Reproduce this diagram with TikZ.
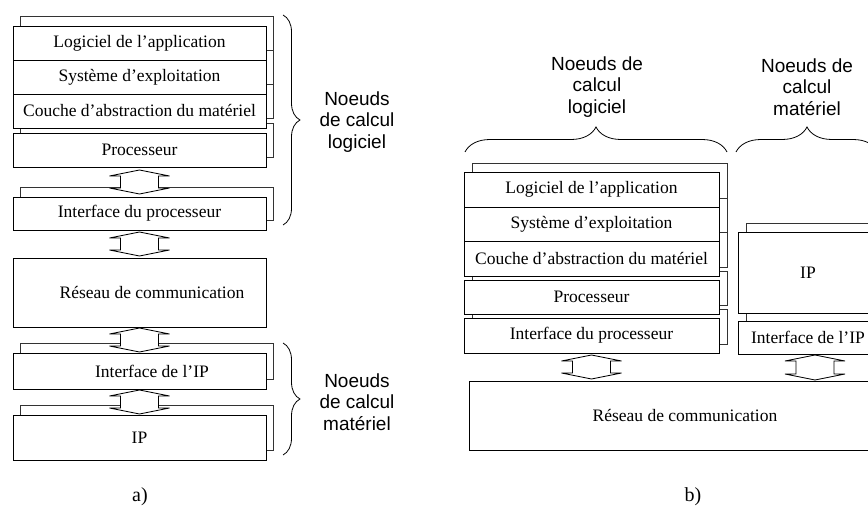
\documentclass[tikz,border=0pt]{standalone}
\usepackage{fontspec}
\setmainfont{Liberation Serif}
\newfontfamily\sansf{Liberation Sans}
\usetikzlibrary{calc,decorations.pathreplacing}
\pgfdeclarelayer{bg}
\pgfsetlayers{bg,main}
\tikzset{
 layer/.style={draw, fill=white, line width=0.8pt, inner sep=0pt, outer sep=0pt, anchor=north west, font=\fontsize{17.5}{20}\selectfont},
 shad/.style={draw=black!80, fill=white, line width=0.8pt},
 arr/.style={draw, fill=white, line width=0.8pt, line join=miter},
 brc/.style={decorate, decoration={brace, amplitude=#1}, line width=0.8pt},
 grp/.style={font=\sansf\fontsize{19}{21.5}\selectfont, align=center},
 lab/.style={font=\fontsize{20}{24}\selectfont},
}
\newcommand\mybox[6]{\node[layer, minimum width={#4-#2}, minimum height={#5-#3}] (#1) at (#2,#3) {#6};}
\newcommand\myshadow[3]{\draw[shad] ([shift={(#2,-#3)}]#1.south west) rectangle ([shift={(#2,-#3)}]#1.north east);}
\newcommand\dblarr[2]{\draw[arr] let \p1=#1, \p2=#2 in (\x1,\y1) -- (\x1-30pt,\y1-6pt) -- (\x1-19pt,\y1-6pt) -- (\x1-19pt,\y2+6pt) -- (\x1-30pt,\y2+6pt) -- (\x1,\y2) -- (\x1+30pt,\y2+6pt) -- (\x1+19pt,\y2+6pt) -- (\x1+19pt,\y1-6pt) -- (\x1+30pt,\y1-6pt) -- cycle;}
\begin{document}
\begin{tikzpicture}[x=1pt,y=-1pt]
\useasboundingbox (0,0) rectangle (868,508);
\clip (0,0) rectangle (868,508);
% ---------- a) ----------
\mybox{log}{13}{26}{266}{60}{Logiciel de l’application}
\mybox{sys}{13}{60}{266}{94}{Système d’exploitation}
\mybox{hal}{13}{94}{266}{128}{Couche d’abstraction du matériel}
\mybox{proc}{13}{133}{266}{167}{Processeur}
\mybox{ifp}{13}{197}{266}{230}{Interface du processeur}
\mybox{res}{13}{258}{266}{327}{\hspace*{25pt}Réseau de communication}
\mybox{ifip}{13}{353}{266}{389}{\hspace*{25pt}Interface de l’IP}
\mybox{ip}{13}{415}{266}{460}{IP}
% ---------- b) ----------
\mybox{logb}{464}{172}{719}{207}{Logiciel de l’application}
\mybox{sysb}{464}{207}{719}{241}{Système d’exploitation}
\mybox{halb}{464}{241}{719}{276}{Couche d’abstraction du matériel}
\mybox{procb}{464}{280}{719}{314}{Processeur}
\mybox{ifpb}{464}{318}{719}{353}{Interface du processeur}
\mybox{ipb}{738}{232}{878}{313}{IP}
\mybox{ifipb}{738}{321}{878}{354}{Interface de l’IP}
\mybox{resb}{469}{381}{880}{450}{\hspace*{21pt}Réseau de communication}
% shadows
\begin{pgfonlayer}{bg}
\foreach \n in {log,sys,hal,proc,ifp,ifip,ip}{\myshadow{\n}{7}{10}}
\foreach \n in {logb,sysb,halb,procb,ifpb,ipb,ifipb}{\myshadow{\n}{8}{9}}
\end{pgfonlayer}
% arrows
\dblarr{([yshift=-3pt]proc.south)}{([yshift=3pt]ifp.north)}
\dblarr{([yshift=-2pt]ifp.south)}{([yshift=2pt]res.north)}
\dblarr{([yshift=-1pt]res.south)}{([yshift=1pt]ifip.north)}
\dblarr{([yshift=-1pt]ifip.south)}{([yshift=1pt]ip.north)}
\dblarr{([yshift=-2pt]ifpb.south)}{([yshift=2pt]resb.north)}
\dblarr{([xshift=7pt,yshift=-1pt]ifipb.south)}{([yshift=1pt]resb.north)}
% braces
\coordinate (b1s) at (283,15); \coordinate (b1e) at (283,225);
\coordinate (b2s) at (283,343); \coordinate (b2e) at (283,455);
\coordinate (b3s) at (465,152); \coordinate (b3e) at (727,152);
\coordinate (b4s) at (736,152); \coordinate (b4e) at (878,152);
\draw[brc=17pt] (b1s) -- (b1e);
\draw[brc=17pt] (b2s) -- (b2e);
\draw[brc=25pt] (b3s) -- (b3e);
\draw[brc=25pt] (b4s) -- (b4e);
% group labels
\node[grp] (gl) at (357,122) {Noeuds\\de calcul\\logiciel};
\node[grp] (gm) at (357,402) {Noeuds\\de calcul\\matériel};
\node[grp] (gl2) at (597,87) {Noeuds de\\calcul\\logiciel};
\node[grp] (gm2) at (807,87) {Noeuds de\\calcul\\matériel};
% captions
\node[lab] (la) at (140,497) {a)};
\node[lab] (lb) at (693,497) {b)};
\end{tikzpicture}
\end{document}
